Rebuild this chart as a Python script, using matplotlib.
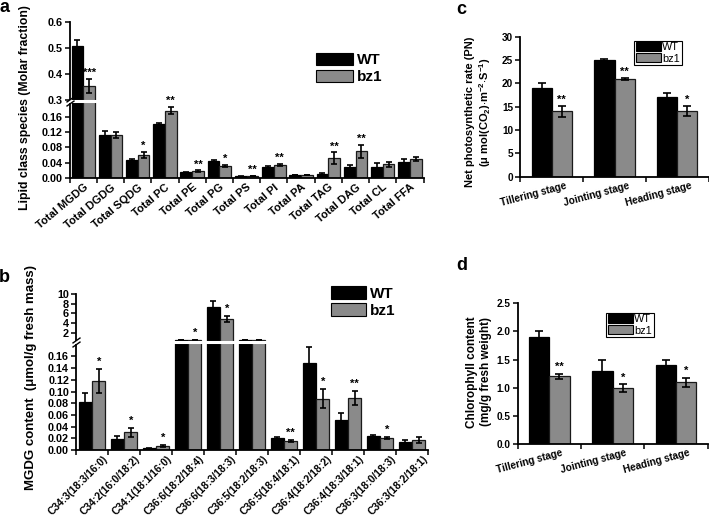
import numpy as np
import matplotlib
matplotlib.use('Agg')
import matplotlib.pyplot as plt
from matplotlib.transforms import ScaledTranslation
from matplotlib.patches import Patch
from matplotlib.path import Path

plt.rcParams['font.family'] = ['Liberation Sans', 'DejaVu Sans']
plt.rcParams['font.weight'] = 'bold'
plt.rcParams['mathtext.fontset'] = 'custom'
plt.rcParams['mathtext.bf'] = 'Liberation Sans:bold'
plt.rcParams['mathtext.rm'] = 'Liberation Sans:bold'
plt.rcParams['mathtext.default'] = 'bf'

# ---------------- data ----------------
a_cats = ['Total MGDG', 'Total DGDG', 'Total SQDG', 'Total PC', 'Total PE', 'Total PG',
          'Total PS', 'Total PI', 'Total PA', 'Total TAG', 'Total DAG', 'Total CL', 'Total FFA']
a_wt = [0.507, 0.112, 0.047, 0.140, 0.015, 0.044, 0.004, 0.029, 0.008, 0.011, 0.030, 0.028, 0.043]
a_wt_err = [0.022, 0.010, 0.003, 0.004, 0.001, 0.002, 0.0008, 0.002, 0.001, 0.002, 0.003, 0.010, 0.006]
a_bz = [0.355, 0.112, 0.060, 0.176, 0.018, 0.031, 0.005, 0.034, 0.008, 0.052, 0.070, 0.036, 0.049]
a_bz_err = [0.027, 0.007, 0.008, 0.010, 0.002, 0.003, 0.001, 0.003, 0.001, 0.015, 0.017, 0.006, 0.005]
a_sig = ['***', '', '*', '**', '**', '*', '**', '**', '', '**', '**', '', '']
a_yticks = [0.00, 0.04, 0.08, 0.12, 0.16, 0.3, 0.4, 0.5, 0.6]
a_yticklabels = ['0.00', '0.04', '0.08', '0.12', '0.16', '0.3', '0.4', '0.5', '0.6']

b_cats = ['C34:3(18:3/16:0)', 'C34:2(16:0/18:2)', 'C34:1(18:1/16:0)', 'C36:6(18:2/18:4)',
          'C36:6(18:3/18:3)', 'C36:5(18:2/18:3)', 'C36:5(18:4/18:1)', 'C36:4(18:2/18:2)',
          'C36:4(18:3/18:1)', 'C36:3(18:0/18:3)', 'C36:3(18:2/18:1)']
b_wt = [0.082, 0.019, 0.003, 0.56, 7.3, 0.56, 0.021, 0.148, 0.052, 0.0245, 0.014]
b_wt_err = [0.016, 0.005, 0.0005, 0.02, 1.15, 0.02, 0.002, 0.028, 0.011, 0.0015, 0.003]
b_bz = [0.118, 0.030, 0.0068, 0.50, 4.9, 0.52, 0.015, 0.088, 0.089, 0.021, 0.0165]
b_bz_err = [0.020, 0.007, 0.002, 0.02, 0.65, 0.02, 0.0015, 0.016, 0.012, 0.0015, 0.005]
b_sig = ['*', '*', '*', '*', '*', '', '**', '*', '**', '*', '']
b_yticks = [0.00, 0.02, 0.04, 0.06, 0.08, 0.10, 0.12, 0.14, 0.16, 2, 4, 6, 8, 10]
b_yticklabels = ['0.00', '0.02', '0.04', '0.06', '0.08', '0.10', '0.12', '0.14', '0.16',
                 '2', '4', '6', '8', '10']

stages = ['Tillering stage', 'Jointing stage', 'Heading stage']
c_wt = [19, 25, 17]
c_wt_err = [1.1, 0.2, 0.9]
c_bz = [14, 21, 14]
c_bz_err = [1.2, 0.2, 1.1]
c_sig = ['**', '**', '*']
c_yticks = [0, 5, 10, 15, 20, 25, 30]

d_wt = [1.9, 1.3, 1.4]
d_wt_err = [0.1, 0.2, 0.1]
d_bz = [1.2, 1.0, 1.1]
d_bz_err = [0.05, 0.07, 0.08]
d_sig = ['**', '*', '*']
d_yticks = [0.0, 0.5, 1.0, 1.5, 2.0, 2.5]

labels = ['WT', 'bz1']
GRAY = '#8a8a8a'

# ---------------- helpers ----------------
W, H = 709, 521
fig = plt.figure(figsize=(W / 100, H / 100), dpi=100)


def px_axes(l, t, r, b):
    return fig.add_axes([l / W, 1 - b / H, (r - l) / W, (b - t) / H])


def piecewise(b1, b2, k1, gap, k2):
    y1 = b1 * k1
    y2 = y1 + gap

    def fwd(v):
        v = np.asarray(v, float)
        return np.where(v <= b1, v * k1,
                        np.where(v < b2, y1 + (v - b1) / (b2 - b1) * gap, y2 + (v - b2) * k2))

    def inv(u):
        u = np.asarray(u, float)
        return np.where(u <= y1, u / k1,
                        np.where(u < y2, b1 + (u - y1) / gap * (b2 - b1), b2 + (u - y2) / k2))
    return fwd, inv


def style(ax, n, fs_tick):
    for s in ['top', 'right']:
        ax.spines[s].set_visible(False)
    for s in ['left', 'bottom']:
        ax.spines[s].set_linewidth(1.3)
    ax.set_xlim(0, n)
    ax.tick_params(axis='y', direction='out', length=3.5, width=1.1, labelsize=fs_tick, pad=1.5)
    ax.tick_params(axis='x', which='major', length=0, labelsize=fs_tick, pad=3)
    ax.set_xticks(np.arange(n + 1), minor=True)
    ax.tick_params(axis='x', which='minor', direction='out', length=3.5, width=1.1)


def draw_bars(ax, wt, wte, bz, bze, sig, width, capsize, star_fs, star_off):
    x = np.arange(len(wt)) + 0.5
    ek = dict(ecolor='black', elinewidth=1.2, capthick=1.2)
    ax.bar(x - width / 2, wt, width, color='black', edgecolor='black', linewidth=0.9,
           yerr=wte, capsize=capsize, error_kw=ek, zorder=2)
    ax.bar(x + width / 2, bz, width, color=GRAY, edgecolor='#1a1a1a', linewidth=0.9,
           yerr=bze, capsize=capsize, error_kw=ek, zorder=2)
    for xi, v, e, s in zip(x, bz, bze, sig):
        if s:
            ax.annotate(s, (xi + width / 2, v + e), xytext=(0, star_off), textcoords='offset points',
                        ha='center', va='bottom', fontsize=star_fs, fontweight='bold')
    return x


def set_xlabels(ax, cats, rot, fs, dx_px):
    x = np.arange(len(cats)) + 0.5
    ax.set_xticks(x)
    ax.set_xticklabels(cats, rotation=rot, ha='right', va='top', rotation_mode='anchor',
                       fontsize=fs, fontweight='bold')
    off = ScaledTranslation(dx_px / 100, 0, fig.dpi_scale_trans)
    for lab in ax.get_xticklabels():
        lab.set_transform(lab.get_transform() + off)


def add_break(ax, val):
    ax.axhline(val, xmin=0, xmax=1, color='white', lw=2.2, zorder=6, clip_on=False)
    verts = [(-1, -1.2), (1, 0.2), (-1, -0.2), (1, 1.2)]
    mk = Path(verts, [Path.MOVETO, Path.LINETO, Path.MOVETO, Path.LINETO])
    ax.plot([0], [val], marker=mk, ms=7, mec='black', mew=1.0, color='black',
            transform=ax.get_yaxis_transform(), clip_on=False, zorder=7, linestyle='none')


def add_legend(ax, x_px, y_px, fs, weight, frame, hl, hh, ls, htp, bp):
    handles = [Patch(facecolor='black', edgecolor='black', lw=0.8),
               Patch(facecolor=GRAY, edgecolor='black', lw=0.8)]
    leg = ax.legend(handles, labels, loc='upper left', bbox_to_anchor=(x_px / W, 1 - y_px / H),
                    bbox_transform=fig.transFigure, frameon=frame,
                    prop={'weight': weight, 'size': fs}, handlelength=hl, handleheight=hh,
                    labelspacing=ls, handletextpad=htp, borderpad=bp, borderaxespad=0,
                    fancybox=False, edgecolor='black', framealpha=1)
    if frame:
        leg.get_frame().set_linewidth(0.8)
    return leg


# ---------------- panel a ----------------
axa = px_axes(69.7, 22, 423.6, 178)
fa, ia = piecewise(0.2, 0.3, 383, 1.5, 260)
axa.set_yscale('function', functions=(fa, ia))
style(axa, len(a_cats), 7.8)
axa.set_ylim(0, 0.6)
axa.set_yticks(a_yticks)
axa.set_yticklabels(a_yticklabels)
axa.yaxis.set_minor_locator(matplotlib.ticker.NullLocator())
draw_bars(axa, a_wt, a_wt_err, a_bz, a_bz_err, a_sig, 0.43, 2.5, 8, 0.5)
set_xlabels(axa, a_cats, 40, 8, 0)
add_break(axa, 0.25)
add_legend(axa, 316, 53, 11, 'bold', False, 2.4, 0.85, 0.15, 0.25, 0)
fig.text(25 / W, 1 - 108 / H, 'Lipid class species (Molar fraction)', rotation=90,
         ha='center', va='center', fontsize=8.8, fontweight='bold')

# ---------------- panel b ----------------
axb = px_axes(76, 293.8, 428, 450)
fb, ib = piecewise(0.185, 2, 585, 8.8, 4.9)
axb.set_yscale('function', functions=(fb, ib))
style(axb, len(b_cats), 7.8)
axb.set_ylim(0, 10)
axb.set_yticks(b_yticks)
axb.set_yticklabels(b_yticklabels)
axb.yaxis.set_minor_locator(matplotlib.ticker.NullLocator())
draw_bars(axb, b_wt, b_wt_err, b_bz, b_bz_err, b_sig, 0.42, 2.5, 8, 1.5)
set_xlabels(axb, b_cats, 45, 7.5, 11)
add_break(axb, 0.2)
add_legend(axb, 331, 286, 11, 'bold', False, 2.3, 0.9, 0.15, 0.25, 0)
fig.text(31 / W, 1 - 378 / H, 'MGDG content  (\u03bcmol/g fresh mass)', rotation=90,
         ha='center', va='center', fontsize=9.5, fontweight='bold')

# ---------------- panel c ----------------
axc = px_axes(520.3, 36.7, 708.7, 176.7)
style(axc, 3, 7.2)
axc.set_ylim(0, 30)
axc.set_yticks(c_yticks)
draw_bars(axc, c_wt, c_wt_err, c_bz, c_bz_err, c_sig, 0.32, 3, 8, 1)
set_xlabels(axc, stages, 15, 7.2, 13)
add_legend(axc, 634, 40.7, 7.8, 'normal', True, 2.3, 0.85, 0.1, 0.15, 0.15)
fig.text(479 / W, 1 - 112 / H,
         'Net photosynthetic rate (PN)\n(\u03bc mol(CO$_2$)$\\cdot$m$^{-2}$$\\cdot$S$^{-1}$)',
         rotation=90, ha='center', va='center', fontsize=8, fontweight='bold',
         linespacing=1.15, multialignment='center')

# ---------------- panel d ----------------
axd = px_axes(517.6, 303.3, 707.6, 444)
style(axd, 3, 7.2)
axd.set_ylim(0, 2.5)
axd.set_yticks(d_yticks)
axd.set_yticklabels(['%.1f' % t for t in d_yticks])
draw_bars(axd, d_wt, d_wt_err, d_bz, d_bz_err, d_sig, 0.32, 3, 8, 1)
set_xlabels(axd, stages, 15, 7.2, 12)
add_legend(axd, 606, 312.7, 7.8, 'normal', True, 2.3, 0.85, 0.1, 0.15, 0.15)
fig.text(479 / W, 1 - 372 / H, 'Chlorophyll content\n(mg/g fresh weight)',
         rotation=90, ha='center', va='center', fontsize=8.5, fontweight='bold',
         linespacing=1.15, multialignment='center')

# panel letters
for t, xp, yp in [('a', 4, 8), ('b', 4, 278), ('c', 461, 9), ('d', 461.5, 265)]:
    fig.text(xp / W, 1 - yp / H, t, ha='center', va='center', fontsize=13, fontweight='bold')

fig.savefig('out.png', dpi=100)
